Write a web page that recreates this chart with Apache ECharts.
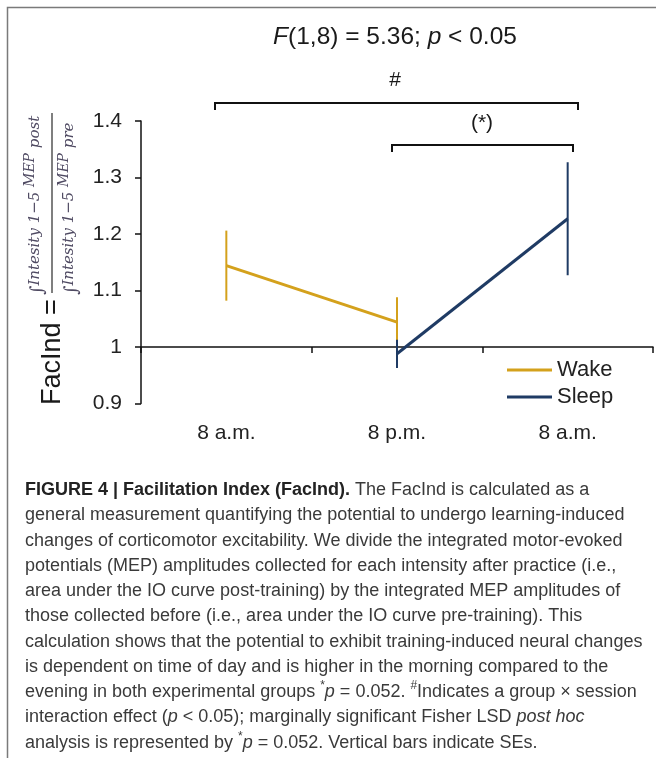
<!DOCTYPE html>
<html><head><meta charset="utf-8">
<script src="https://cdn.jsdelivr.net/npm/echarts@6/dist/echarts.min.js"></script>
<style>html,body{margin:0;padding:0;background:#fff}#c{width:656px;height:758px}</style>
</head><body><div id="c"></div>
<script>
// ---- data ----
const categories = ['8 a.m.', '8 p.m.', '8 a.m.'];
const wakeMean = [1.144, 1.044, null];
const wakeSE   = [0.062, 0.044, null];
const sleepMean = [null, 0.988, 1.227];
const sleepSE   = [null, 0.025, 0.100];
const yMin = 0.9, yMax = 1.4, yInterval = 0.1;
const seriesNames = ['Wake', 'Sleep'];
const titleText = '{i|F}(1,8) = 5.36; {i|p} < 0.05';
const captionLines = [
  '{b|FIGURE 4 | Facilitation Index (FacInd).} The FacInd is calculated as a',
  'general measurement quantifying the potential to undergo learning-induced',
  'changes of corticomotor excitability. We divide the integrated motor-evoked',
  'potentials (MEP) amplitudes collected for each intensity after practice (i.e.,',
  'area under the IO curve post-training) by the integrated MEP amplitudes of',
  'those collected before (i.e., area under the IO curve pre-training). This',
  'calculation shows that the potential to exhibit training-induced neural changes',
  'is dependent on time of day and is higher in the morning compared to the',
  'evening in both experimental groups {s|*}{i|p} = 0.052. {s|#}Indicates a group \u00d7 session',
  'interaction effect ({i|p} < 0.05); marginally significant Fisher LSD {i|post hoc}',
  'analysis is represented by {s|*}{i|p} = 0.052. Vertical bars indicate SEs.'
];

// ---- style ----
const WAKE = '#D4A11C', SLEEP = '#1F3B64';
const FONT = '"Liberation Sans", Arial, sans-serif';
const MATH = '"DejaVu Serif", serif';
const CAP = 18;
const gridTop = 121, gridBottomPx = 403.5, gridLeft = 141, gridRight = 653;
const H = 758, W = 656;
const gridH = gridBottomPx - gridTop;
const axisOffset = -gridH * ((1 - yMin) / (yMax - yMin));

function errSeries(name, means, ses, color) {
  const data = [];
  means.forEach((m, i) => { if (m != null) data.push([i, m - ses[i], m + ses[i]]); });
  return {
    type: 'custom', name: name, xAxisIndex: 0, yAxisIndex: 0,
    dimensions: ['x', 'lo', 'hi'], encode: { x: 0, y: [1, 2] },
    data: data, silent: true,
    renderItem: function (params, api) {
      const p1 = api.coord([api.value(0), api.value(1)]);
      const p2 = api.coord([api.value(0), api.value(2)]);
      return { type: 'line', shape: { x1: p1[0], y1: p1[1], x2: p2[0], y2: p2[1] },
               style: { stroke: color, lineWidth: 2 } };
    }
  };
}

const capRich = {
  b: { fontFamily: FONT, fontSize: CAP, fontWeight: 'bold', fill: '#222', lineHeight: 24 },
  i: { fontFamily: FONT, fontSize: CAP, fontStyle: 'italic', fill: '#3a3a3a', lineHeight: 24 },
  s: { fontFamily: FONT, fontSize: 12, fill: '#3a3a3a', verticalAlign: 'top', lineHeight: 24 }
};
const captionGraphics = captionLines.map((t, k) => ({
  type: 'text', x: 25, y: 490 + k * 25.27,
  style: { text: t, font: CAP + 'px ' + FONT, fill: '#3a3a3a', verticalAlign: 'middle', align: 'left',
           lineHeight: 24, rich: capRich }
}));

const MC = '#4f4a62';
const mathRich = {
  int: { fontFamily: MATH, fontSize: 18, fontStyle: 'italic', fill: MC, verticalAlign: 'bottom', lineHeight: 24 },
  m:   { fontFamily: MATH, fontSize: 15, fontStyle: 'italic', fill: MC, verticalAlign: 'middle', lineHeight: 24 },
  sm:  { fontFamily: MATH, fontSize: 14, fontStyle: 'italic', fill: MC, verticalAlign: 'top', lineHeight: 24 }
};

const chart = echarts.init(document.getElementById('c'), null, { renderer: 'canvas' });
chart.setOption({
  backgroundColor: '#fff',
  animation: false,
  grid: { left: gridLeft, right: W - gridRight, top: gridTop, bottom: H - gridBottomPx,
          containLabel: false, outerBoundsMode: 'none' },
  legend: {
    data: seriesNames, orient: 'vertical', left: 507, top: 359,
    icon: 'rect', itemWidth: 45, itemHeight: 3, itemGap: 5,
    textStyle: { fontFamily: FONT, fontSize: 22, color: '#222', lineHeight: 22, padding: [0, 0, 0, 0] },
    selectedMode: false, padding: 0
  },
  xAxis: [
    { type: 'category', data: categories, position: 'bottom', offset: axisOffset,
      boundaryGap: true,
      axisLine: { show: true, lineStyle: { color: '#111', width: 1.5 } },
      axisTick: { show: true, length: 6, inside: false, lineStyle: { color: '#111', width: 1.5 } },
      axisLabel: { show: false }, splitLine: { show: false } },
    { type: 'category', data: categories, position: 'bottom', offset: 0,
      boundaryGap: true,
      axisLine: { show: false }, axisTick: { show: false }, splitLine: { show: false },
      axisLabel: { show: true, margin: 19, fontFamily: FONT, fontSize: 21, color: '#222', interval: 0 } }
  ],
  yAxis: {
    type: 'value', min: yMin, max: yMax, interval: yInterval,
    axisLine: { show: true, lineStyle: { color: '#111', width: 1.5 } },
    axisTick: { show: true, length: 6, inside: false, lineStyle: { color: '#111', width: 1.5 } },
    splitLine: { show: false },
    axisLabel: { margin: 19, fontFamily: FONT, fontSize: 21, color: '#222',
                 formatter: v => String(Math.round(v * 10) / 10) }
  },
  series: [
    errSeries('Wake SE', wakeMean, wakeSE, WAKE),
    { type: 'line', name: 'Wake', data: wakeMean, xAxisIndex: 0, symbol: 'none', connectNulls: false,
      lineStyle: { color: WAKE, width: 3 }, itemStyle: { color: WAKE }, silent: true },
    errSeries('Sleep SE', sleepMean, sleepSE, SLEEP),
    { type: 'line', name: 'Sleep', data: sleepMean, xAxisIndex: 0, symbol: 'none', connectNulls: false,
      lineStyle: { color: SLEEP, width: 3 }, itemStyle: { color: SLEEP }, silent: true }
  ],
  graphic: [
    { type: 'polyline', shape: { points: [[7.5, H], [7.5, 7.5], [W, 7.5]] },
      style: { stroke: '#7a7a7a', lineWidth: 1.5, fill: null } },
    { type: 'text', x: 395, y: 37,
      style: { text: titleText, font: '24.5px ' + FONT, fill: '#1a1a1a', align: 'center', verticalAlign: 'middle',
               rich: { i: { fontFamily: FONT, fontSize: 24.5, fontStyle: 'italic', fill: '#1a1a1a' } } } },
    { type: 'text', x: 395, y: 80,
      style: { text: '#', font: '21px ' + FONT, fill: '#1a1a1a', align: 'center', verticalAlign: 'middle' } },
    { type: 'polyline', shape: { points: [[215, 110], [215, 103], [578, 103], [578, 110]] },
      style: { stroke: '#111', lineWidth: 2, fill: null } },
    { type: 'text', x: 482, y: 123,
      style: { text: '(*)', font: '21px ' + FONT, fill: '#1a1a1a', align: 'center', verticalAlign: 'middle' } },
    { type: 'polyline', shape: { points: [[392, 152], [392, 145], [573, 145], [573, 152]] },
      style: { stroke: '#111', lineWidth: 2, fill: null } },
    { type: 'group', x: 52, y: 405, rotation: Math.PI / 2,
      children: [
        { type: 'text', x: 0, y: 1,
          style: { text: 'FacInd =', font: '27px ' + FONT, fill: '#1a1a1a', align: 'left', verticalAlign: 'middle' } },
        { type: 'line', shape: { x1: 112, y1: 0, x2: 292, y2: 0 }, style: { stroke: '#555', lineWidth: 1.5 } },
        { type: 'text', x: 110, y: -17,
          style: { text: '{int|\u222B}{m|Intesity 1\u22125 }{sm|MEP}{m| post}', align: 'left', verticalAlign: 'middle',
                   font: '15px ' + MATH, fill: MC, rich: mathRich } },
        { type: 'text', x: 110, y: 17,
          style: { text: '{int|\u222B}{m|Intesity 1\u22125 }{sm|MEP}{m| pre}', align: 'left', verticalAlign: 'middle',
                   font: '15px ' + MATH, fill: MC, rich: mathRich } }
      ] }
  ].concat(captionGraphics)
});
</script></body></html>
